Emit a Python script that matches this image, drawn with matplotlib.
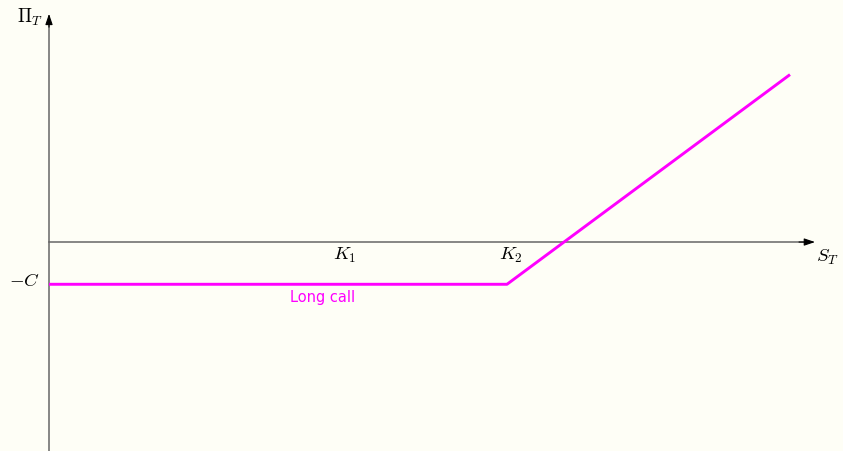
import matplotlib.pyplot as plt

plt.rcParams['mathtext.fontset'] = 'cm'

# long call payoff, in arbitrary units
K1 = 2.96
K2 = 4.58
C = 0.57
S_max = 7.41
s_values = [0.0, K2, S_max]
payoff = [max(s - K2, 0) - C for s in s_values]

bg = '#fefef6'
fig = plt.figure(figsize=(8.43, 4.52), dpi=100, facecolor=bg)
ax = fig.add_axes([0, 0, 1, 1])
ax.set_facecolor(bg)
ax.set_xlim(-0.49, 7.94)
ax.set_ylim(-2.82, 3.28)
ax.axis('off')

# axis lines, then black arrow heads on top
ax.plot([0, 7.6], [0, 0], color='#666666', lw=1.1)
ax.plot([0, 0], [-2.82, 3.0], color='#666666', lw=1.1)
head = dict(arrowstyle='-|>,head_length=0.65,head_width=0.22', color='black',
            lw=0.8, shrinkA=0, shrinkB=0)
ax.annotate('', xy=(7.66, 0), xytext=(7.5, 0), arrowprops=head)
ax.annotate('', xy=(0, 3.08), xytext=(0, 2.9), arrowprops=head)

ax.plot(s_values, payoff, color='#ff00ff', lw=2.1, solid_capstyle='butt')

fs = 13.5
ax.text(K1, -0.17, r'$K_1$', ha='center', va='center', fontsize=fs)
ax.text(4.62, -0.17, r'$K_2$', ha='center', va='center', fontsize=fs)
ax.text(-0.25, -C + 0.06, r'$-C$', ha='center', va='center', fontsize=fs)
ax.text(-0.19, 3.05, r'$\Pi_T$', ha='center', va='center', fontsize=fs)
ax.text(7.78, -0.19, r'$S_T$', ha='center', va='center', fontsize=fs)
ax.text(2.74, -0.73, 'Long call', ha='center', va='center', fontsize=10.5,
        color='#ff00ff')

fig.savefig('out.png', dpi=100, facecolor=bg)
